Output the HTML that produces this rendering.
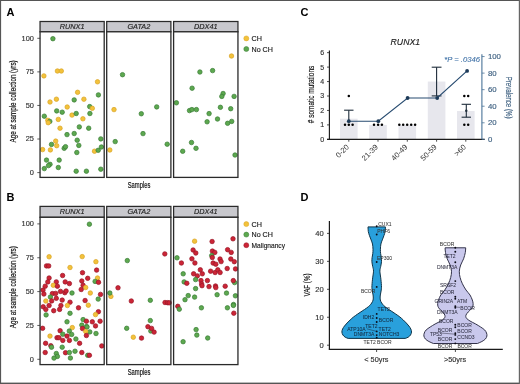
<!DOCTYPE html>
<html><head><meta charset="utf-8"><title>Figure</title>
<style>html,body{margin:0;padding:0;background:#fff;}svg{display:block;will-change:transform;}text{font-family:"Liberation Sans", sans-serif;}</style>
</head><body>
<svg width="520" height="384" viewBox="0 0 520 384" font-family='"Liberation Sans", sans-serif'>
<rect x="0" y="0" width="520" height="384" fill="#fff"/>
<rect x="40.05" y="21.5" width="64.15" height="10.30" fill="#C8C8CD" stroke="#2a2a2a" stroke-width="1.25"/>
<rect x="40.05" y="31.8" width="64.15" height="145.60" fill="#fff" stroke="none"/>
<text x="72.125" y="29.1" font-size="7.3" fill="#222" stroke="#222" stroke-width="0.15" text-anchor="middle" font-weight="normal" font-style="italic" >RUNX1</text>
<rect x="106.7" y="21.5" width="64.20" height="10.30" fill="#C8C8CD" stroke="#2a2a2a" stroke-width="1.25"/>
<rect x="106.7" y="31.8" width="64.20" height="145.60" fill="#fff" stroke="none"/>
<text x="138.8" y="29.1" font-size="7.3" fill="#222" stroke="#222" stroke-width="0.15" text-anchor="middle" font-weight="normal" font-style="italic" >GATA2</text>
<rect x="173.6" y="21.5" width="64.35" height="10.30" fill="#C8C8CD" stroke="#2a2a2a" stroke-width="1.25"/>
<rect x="173.6" y="31.8" width="64.35" height="145.60" fill="#fff" stroke="none"/>
<text x="205.77499999999998" y="29.1" font-size="7.3" fill="#222" stroke="#222" stroke-width="0.15" text-anchor="middle" font-weight="normal" font-style="italic" >DDX41</text>
<g>
<circle cx="52.9" cy="38.7" r="2.25" fill="#5DA84F" stroke="#3A7D37" stroke-width="0.7"/>
<circle cx="43.9" cy="75.9" r="2.25" fill="#F3C23B" stroke="#D9A425" stroke-width="0.7"/>
<circle cx="57.4" cy="71.0" r="2.25" fill="#F3C23B" stroke="#D9A425" stroke-width="0.7"/>
<circle cx="61.3" cy="71.0" r="2.25" fill="#F3C23B" stroke="#D9A425" stroke-width="0.7"/>
<circle cx="97.5" cy="81.8" r="2.25" fill="#F3C23B" stroke="#D9A425" stroke-width="0.7"/>
<circle cx="77.6" cy="92.3" r="2.25" fill="#F3C23B" stroke="#D9A425" stroke-width="0.7"/>
<circle cx="98.4" cy="94.9" r="2.25" fill="#5DA84F" stroke="#3A7D37" stroke-width="0.7"/>
<circle cx="56.4" cy="99.2" r="2.25" fill="#F3C23B" stroke="#D9A425" stroke-width="0.7"/>
<circle cx="50.0" cy="102.0" r="2.25" fill="#F3C23B" stroke="#D9A425" stroke-width="0.7"/>
<circle cx="74.2" cy="99.9" r="2.25" fill="#5DA84F" stroke="#3A7D37" stroke-width="0.7"/>
<circle cx="83.9" cy="99.2" r="2.25" fill="#F3C23B" stroke="#D9A425" stroke-width="0.7"/>
<circle cx="67.2" cy="107.0" r="2.25" fill="#F3C23B" stroke="#D9A425" stroke-width="0.7"/>
<circle cx="89.7" cy="106.6" r="2.25" fill="#5DA84F" stroke="#3A7D37" stroke-width="0.7"/>
<circle cx="92.3" cy="108.3" r="2.25" fill="#F3C23B" stroke="#D9A425" stroke-width="0.7"/>
<circle cx="56.7" cy="110.9" r="2.25" fill="#5DA84F" stroke="#3A7D37" stroke-width="0.7"/>
<circle cx="62.2" cy="112.2" r="2.25" fill="#5DA84F" stroke="#3A7D37" stroke-width="0.7"/>
<circle cx="44.3" cy="116.2" r="2.25" fill="#5DA84F" stroke="#3A7D37" stroke-width="0.7"/>
<circle cx="72.0" cy="115.1" r="2.25" fill="#F3C23B" stroke="#D9A425" stroke-width="0.7"/>
<circle cx="76.2" cy="113.5" r="2.25" fill="#5DA84F" stroke="#3A7D37" stroke-width="0.7"/>
<circle cx="89.9" cy="113.5" r="2.25" fill="#5DA84F" stroke="#3A7D37" stroke-width="0.7"/>
<circle cx="47.8" cy="120.3" r="2.25" fill="#F3C23B" stroke="#D9A425" stroke-width="0.7"/>
<circle cx="49.8" cy="121.4" r="2.25" fill="#5DA84F" stroke="#3A7D37" stroke-width="0.7"/>
<circle cx="48.2" cy="122.7" r="2.25" fill="#F3C23B" stroke="#D9A425" stroke-width="0.7"/>
<circle cx="58.3" cy="119.4" r="2.25" fill="#F3C23B" stroke="#D9A425" stroke-width="0.7"/>
<circle cx="82.9" cy="118.8" r="2.25" fill="#F3C23B" stroke="#D9A425" stroke-width="0.7"/>
<circle cx="60.0" cy="128.2" r="2.25" fill="#F3C23B" stroke="#D9A425" stroke-width="0.7"/>
<circle cx="79.3" cy="126.9" r="2.25" fill="#5DA84F" stroke="#3A7D37" stroke-width="0.7"/>
<circle cx="88.7" cy="128.2" r="2.25" fill="#5DA84F" stroke="#3A7D37" stroke-width="0.7"/>
<circle cx="67.0" cy="134.6" r="2.25" fill="#5DA84F" stroke="#3A7D37" stroke-width="0.7"/>
<circle cx="74.2" cy="133.5" r="2.25" fill="#5DA84F" stroke="#3A7D37" stroke-width="0.7"/>
<circle cx="77.2" cy="140.2" r="2.25" fill="#5DA84F" stroke="#3A7D37" stroke-width="0.7"/>
<circle cx="78.8" cy="145.4" r="2.25" fill="#5DA84F" stroke="#3A7D37" stroke-width="0.7"/>
<circle cx="100.8" cy="138.9" r="2.25" fill="#5DA84F" stroke="#3A7D37" stroke-width="0.7"/>
<circle cx="55.7" cy="141.1" r="2.25" fill="#F3C23B" stroke="#D9A425" stroke-width="0.7"/>
<circle cx="51.5" cy="144.4" r="2.25" fill="#5DA84F" stroke="#3A7D37" stroke-width="0.7"/>
<circle cx="56.7" cy="145.7" r="2.25" fill="#F3C23B" stroke="#D9A425" stroke-width="0.7"/>
<circle cx="42.6" cy="149.6" r="2.25" fill="#F3C23B" stroke="#D9A425" stroke-width="0.7"/>
<circle cx="50.4" cy="149.9" r="2.25" fill="#F3C23B" stroke="#D9A425" stroke-width="0.7"/>
<circle cx="64.2" cy="148.3" r="2.25" fill="#5DA84F" stroke="#3A7D37" stroke-width="0.7"/>
<circle cx="65.5" cy="146.7" r="2.25" fill="#5DA84F" stroke="#3A7D37" stroke-width="0.7"/>
<circle cx="76.8" cy="152.5" r="2.25" fill="#5DA84F" stroke="#3A7D37" stroke-width="0.7"/>
<circle cx="94.5" cy="151.2" r="2.25" fill="#F3C23B" stroke="#D9A425" stroke-width="0.7"/>
<circle cx="98.2" cy="150.3" r="2.25" fill="#5DA84F" stroke="#3A7D37" stroke-width="0.7"/>
<circle cx="101.4" cy="147.0" r="2.25" fill="#5DA84F" stroke="#3A7D37" stroke-width="0.7"/>
<circle cx="46.5" cy="160.1" r="2.25" fill="#5DA84F" stroke="#3A7D37" stroke-width="0.7"/>
<circle cx="59.2" cy="160.1" r="2.25" fill="#5DA84F" stroke="#3A7D37" stroke-width="0.7"/>
<circle cx="50.0" cy="164.3" r="2.25" fill="#5DA84F" stroke="#3A7D37" stroke-width="0.7"/>
<circle cx="48.5" cy="165.6" r="2.25" fill="#5DA84F" stroke="#3A7D37" stroke-width="0.7"/>
<circle cx="44.3" cy="168.6" r="2.25" fill="#5DA84F" stroke="#3A7D37" stroke-width="0.7"/>
<circle cx="58.3" cy="167.5" r="2.25" fill="#5DA84F" stroke="#3A7D37" stroke-width="0.7"/>
<circle cx="76.2" cy="171.2" r="2.25" fill="#5DA84F" stroke="#3A7D37" stroke-width="0.7"/>
<circle cx="86.4" cy="171.2" r="2.25" fill="#5DA84F" stroke="#3A7D37" stroke-width="0.7"/>
<circle cx="100.8" cy="169.2" r="2.25" fill="#5DA84F" stroke="#3A7D37" stroke-width="0.7"/>
<circle cx="122.5" cy="74.7" r="2.25" fill="#5DA84F" stroke="#3A7D37" stroke-width="0.7"/>
<circle cx="114.0" cy="109.6" r="2.25" fill="#F3C23B" stroke="#D9A425" stroke-width="0.7"/>
<circle cx="141.3" cy="113.75" r="2.25" fill="#5DA84F" stroke="#3A7D37" stroke-width="0.7"/>
<circle cx="156.7" cy="106.9" r="2.25" fill="#5DA84F" stroke="#3A7D37" stroke-width="0.7"/>
<circle cx="143.0" cy="133.6" r="2.25" fill="#5DA84F" stroke="#3A7D37" stroke-width="0.7"/>
<circle cx="115.2" cy="141.6" r="2.25" fill="#5DA84F" stroke="#3A7D37" stroke-width="0.7"/>
<circle cx="109.8" cy="150.0" r="2.25" fill="#F3C23B" stroke="#D9A425" stroke-width="0.7"/>
<circle cx="167.2" cy="144.2" r="2.25" fill="#5DA84F" stroke="#3A7D37" stroke-width="0.7"/>
<circle cx="231.5" cy="56.0" r="2.25" fill="#F3C23B" stroke="#D9A425" stroke-width="0.7"/>
<circle cx="199.9" cy="72.0" r="2.25" fill="#5DA84F" stroke="#3A7D37" stroke-width="0.7"/>
<circle cx="212.6" cy="70.6" r="2.25" fill="#5DA84F" stroke="#3A7D37" stroke-width="0.7"/>
<circle cx="192.1" cy="88.2" r="2.25" fill="#5DA84F" stroke="#3A7D37" stroke-width="0.7"/>
<circle cx="223.1" cy="93.5" r="2.25" fill="#5DA84F" stroke="#3A7D37" stroke-width="0.7"/>
<circle cx="221.8" cy="96.4" r="2.25" fill="#5DA84F" stroke="#3A7D37" stroke-width="0.7"/>
<circle cx="234.1" cy="96.4" r="2.25" fill="#5DA84F" stroke="#3A7D37" stroke-width="0.7"/>
<circle cx="176.4" cy="102.8" r="2.25" fill="#5DA84F" stroke="#3A7D37" stroke-width="0.7"/>
<circle cx="189.5" cy="110.6" r="2.25" fill="#5DA84F" stroke="#3A7D37" stroke-width="0.7"/>
<circle cx="191.9" cy="109.6" r="2.25" fill="#5DA84F" stroke="#3A7D37" stroke-width="0.7"/>
<circle cx="196.4" cy="109.6" r="2.25" fill="#5DA84F" stroke="#3A7D37" stroke-width="0.7"/>
<circle cx="209.1" cy="113.6" r="2.25" fill="#5DA84F" stroke="#3A7D37" stroke-width="0.7"/>
<circle cx="220.4" cy="107.3" r="2.25" fill="#5DA84F" stroke="#3A7D37" stroke-width="0.7"/>
<circle cx="230.7" cy="108.7" r="2.25" fill="#5DA84F" stroke="#3A7D37" stroke-width="0.7"/>
<circle cx="207.1" cy="121.8" r="2.25" fill="#5DA84F" stroke="#3A7D37" stroke-width="0.7"/>
<circle cx="217.5" cy="119.0" r="2.25" fill="#5DA84F" stroke="#3A7D37" stroke-width="0.7"/>
<circle cx="227.6" cy="123.3" r="2.25" fill="#5DA84F" stroke="#3A7D37" stroke-width="0.7"/>
<circle cx="231.7" cy="121.4" r="2.25" fill="#5DA84F" stroke="#3A7D37" stroke-width="0.7"/>
<circle cx="191.5" cy="142.5" r="2.25" fill="#5DA84F" stroke="#3A7D37" stroke-width="0.7"/>
<circle cx="196.0" cy="148.3" r="2.25" fill="#5DA84F" stroke="#3A7D37" stroke-width="0.7"/>
<circle cx="182.7" cy="151.25" r="2.25" fill="#5DA84F" stroke="#3A7D37" stroke-width="0.7"/>
<circle cx="235.0" cy="155.0" r="2.25" fill="#5DA84F" stroke="#3A7D37" stroke-width="0.7"/>
</g>
<rect x="40.05" y="31.8" width="64.15" height="145.60" fill="none" stroke="#2a2a2a" stroke-width="1.3"/>
<rect x="106.7" y="31.8" width="64.20" height="145.60" fill="none" stroke="#2a2a2a" stroke-width="1.3"/>
<rect x="173.6" y="31.8" width="64.35" height="145.60" fill="none" stroke="#2a2a2a" stroke-width="1.3"/>
<line x1="37.3" y1="172.60" x2="40.2" y2="172.60" stroke="#333" stroke-width="0.8"/>
<text x="33.9" y="175.0" font-size="7.4" fill="#333" stroke="#333" stroke-width="0.15" text-anchor="end" font-weight="normal" font-style="normal" >0</text>
<line x1="37.3" y1="139.02" x2="40.2" y2="139.02" stroke="#333" stroke-width="0.8"/>
<text x="33.9" y="141.42" font-size="7.4" fill="#333" stroke="#333" stroke-width="0.15" text-anchor="end" font-weight="normal" font-style="normal" >25</text>
<line x1="37.3" y1="105.45" x2="40.2" y2="105.45" stroke="#333" stroke-width="0.8"/>
<text x="33.9" y="107.85" font-size="7.4" fill="#333" stroke="#333" stroke-width="0.15" text-anchor="end" font-weight="normal" font-style="normal" >50</text>
<line x1="37.3" y1="71.88" x2="40.2" y2="71.88" stroke="#333" stroke-width="0.8"/>
<text x="33.9" y="74.28" font-size="7.4" fill="#333" stroke="#333" stroke-width="0.15" text-anchor="end" font-weight="normal" font-style="normal" >75</text>
<line x1="37.3" y1="38.30" x2="40.2" y2="38.30" stroke="#333" stroke-width="0.8"/>
<text x="33.9" y="40.7" font-size="7.4" fill="#333" stroke="#333" stroke-width="0.15" text-anchor="end" font-weight="normal" font-style="normal" >100</text>
<text transform="translate(15.9,101.4) rotate(-90)" x="0" y="0" font-size="8.4" fill="#111" stroke="#111" stroke-width="0.18" text-anchor="middle" textLength="82" lengthAdjust="spacingAndGlyphs">Age at sample collection (yrs)</text>
<text x="139" y="187.8" font-size="8.3" fill="#111" stroke="#111" stroke-width="0.18" text-anchor="middle" textLength="22.6" lengthAdjust="spacingAndGlyphs">Samples</text>
<text x="6.4" y="15.6" font-size="11" fill="#000" text-anchor="start" font-weight="bold" font-style="normal" >A</text>
<circle cx="246.3" cy="38.4" r="2.5" fill="#F3C23B" stroke="#D9A425" stroke-width="0.5"/>
<text x="251.5" y="41.00" font-size="7.1" fill="#1a1a1a" stroke="#1a1a1a" stroke-width="0.15" textLength="10.4" lengthAdjust="spacingAndGlyphs">CH</text>
<circle cx="246.3" cy="49.0" r="2.5" fill="#5DA84F" stroke="#3A7D37" stroke-width="0.5"/>
<text x="251.5" y="51.60" font-size="7.1" fill="#1a1a1a" stroke="#1a1a1a" stroke-width="0.15" textLength="21.4" lengthAdjust="spacingAndGlyphs">No CH</text>
<rect x="40.05" y="206.4" width="64.15" height="10.90" fill="#C8C8CD" stroke="#2a2a2a" stroke-width="1.25"/>
<rect x="40.05" y="217.3" width="64.15" height="147.30" fill="#fff" stroke="none"/>
<text x="72.125" y="214.0" font-size="7.3" fill="#222" stroke="#222" stroke-width="0.15" text-anchor="middle" font-weight="normal" font-style="italic" >RUNX1</text>
<rect x="106.7" y="206.4" width="64.20" height="10.90" fill="#C8C8CD" stroke="#2a2a2a" stroke-width="1.25"/>
<rect x="106.7" y="217.3" width="64.20" height="147.30" fill="#fff" stroke="none"/>
<text x="138.8" y="214.0" font-size="7.3" fill="#222" stroke="#222" stroke-width="0.15" text-anchor="middle" font-weight="normal" font-style="italic" >GATA2</text>
<rect x="173.6" y="206.4" width="64.35" height="10.90" fill="#C8C8CD" stroke="#2a2a2a" stroke-width="1.25"/>
<rect x="173.6" y="217.3" width="64.35" height="147.30" fill="#fff" stroke="none"/>
<text x="205.77499999999998" y="214.0" font-size="7.3" fill="#222" stroke="#222" stroke-width="0.15" text-anchor="middle" font-weight="normal" font-style="italic" >DDX41</text>
<g>
<circle cx="89.4" cy="224.2" r="2.25" fill="#5DA84F" stroke="#3A7D37" stroke-width="0.7"/>
<circle cx="49.1" cy="256.8" r="2.25" fill="#F3C23B" stroke="#D9A425" stroke-width="0.7"/>
<circle cx="82.2" cy="256.6" r="2.25" fill="#F3C23B" stroke="#D9A425" stroke-width="0.7"/>
<circle cx="95.9" cy="261.7" r="2.25" fill="#F3C23B" stroke="#D9A425" stroke-width="0.7"/>
<circle cx="46.5" cy="265.9" r="2.25" fill="#CC2536" stroke="#981626" stroke-width="0.7"/>
<circle cx="48.7" cy="265.9" r="2.25" fill="#CC2536" stroke="#981626" stroke-width="0.7"/>
<circle cx="70.0" cy="267.5" r="2.25" fill="#F3C23B" stroke="#D9A425" stroke-width="0.7"/>
<circle cx="96.6" cy="270.1" r="2.25" fill="#CC2536" stroke="#981626" stroke-width="0.7"/>
<circle cx="82.5" cy="272.7" r="2.25" fill="#CC2536" stroke="#981626" stroke-width="0.7"/>
<circle cx="62.6" cy="275.5" r="2.25" fill="#CC2536" stroke="#981626" stroke-width="0.7"/>
<circle cx="49.1" cy="278.0" r="2.25" fill="#CC2536" stroke="#981626" stroke-width="0.7"/>
<circle cx="87.7" cy="278.3" r="2.25" fill="#CC2536" stroke="#981626" stroke-width="0.7"/>
<circle cx="97.5" cy="278.0" r="2.25" fill="#F3C23B" stroke="#D9A425" stroke-width="0.7"/>
<circle cx="47.8" cy="281.9" r="2.25" fill="#CC2536" stroke="#981626" stroke-width="0.7"/>
<circle cx="56.3" cy="281.9" r="2.25" fill="#CC2536" stroke="#981626" stroke-width="0.7"/>
<circle cx="65.2" cy="281.9" r="2.25" fill="#CC2536" stroke="#981626" stroke-width="0.7"/>
<circle cx="69.4" cy="283.6" r="2.25" fill="#CC2536" stroke="#981626" stroke-width="0.7"/>
<circle cx="81.8" cy="281.0" r="2.25" fill="#CC2536" stroke="#981626" stroke-width="0.7"/>
<circle cx="95.1" cy="281.4" r="2.25" fill="#5DA84F" stroke="#3A7D37" stroke-width="0.7"/>
<circle cx="98.5" cy="282.3" r="2.25" fill="#CC2536" stroke="#981626" stroke-width="0.7"/>
<circle cx="45.2" cy="286.2" r="2.25" fill="#CC2536" stroke="#981626" stroke-width="0.7"/>
<circle cx="53.3" cy="285.3" r="2.25" fill="#F3C23B" stroke="#D9A425" stroke-width="0.7"/>
<circle cx="57.4" cy="286.2" r="2.25" fill="#CC2536" stroke="#981626" stroke-width="0.7"/>
<circle cx="83.1" cy="285.3" r="2.25" fill="#CC2536" stroke="#981626" stroke-width="0.7"/>
<circle cx="85.7" cy="287.5" r="2.25" fill="#F3C23B" stroke="#D9A425" stroke-width="0.7"/>
<circle cx="81.2" cy="289.5" r="2.25" fill="#CC2536" stroke="#981626" stroke-width="0.7"/>
<circle cx="43.0" cy="290.1" r="2.25" fill="#CC2536" stroke="#981626" stroke-width="0.7"/>
<circle cx="43.9" cy="294.0" r="2.25" fill="#CC2536" stroke="#981626" stroke-width="0.7"/>
<circle cx="52.4" cy="293.6" r="2.25" fill="#CC2536" stroke="#981626" stroke-width="0.7"/>
<circle cx="55.7" cy="293.4" r="2.25" fill="#CC2536" stroke="#981626" stroke-width="0.7"/>
<circle cx="60.5" cy="291.4" r="2.25" fill="#CC2536" stroke="#981626" stroke-width="0.7"/>
<circle cx="64.8" cy="292.7" r="2.25" fill="#CC2536" stroke="#981626" stroke-width="0.7"/>
<circle cx="66.1" cy="291.0" r="2.25" fill="#CC2536" stroke="#981626" stroke-width="0.7"/>
<circle cx="72.0" cy="293.0" r="2.25" fill="#5DA84F" stroke="#3A7D37" stroke-width="0.7"/>
<circle cx="90.3" cy="293.0" r="2.25" fill="#F3C23B" stroke="#D9A425" stroke-width="0.7"/>
<circle cx="100.5" cy="294.4" r="2.25" fill="#CC2536" stroke="#981626" stroke-width="0.7"/>
<circle cx="50.4" cy="297.0" r="2.25" fill="#5DA84F" stroke="#3A7D37" stroke-width="0.7"/>
<circle cx="56.3" cy="298.3" r="2.25" fill="#CC2536" stroke="#981626" stroke-width="0.7"/>
<circle cx="62.2" cy="300.1" r="2.25" fill="#CC2536" stroke="#981626" stroke-width="0.7"/>
<circle cx="85.1" cy="300.5" r="2.25" fill="#CC2536" stroke="#981626" stroke-width="0.7"/>
<circle cx="98.2" cy="299.1" r="2.25" fill="#5DA84F" stroke="#3A7D37" stroke-width="0.7"/>
<circle cx="45.8" cy="301.0" r="2.25" fill="#F3C23B" stroke="#D9A425" stroke-width="0.7"/>
<circle cx="51.7" cy="300.9" r="2.25" fill="#CC2536" stroke="#981626" stroke-width="0.7"/>
<circle cx="70.0" cy="302.2" r="2.25" fill="#CC2536" stroke="#981626" stroke-width="0.7"/>
<circle cx="67.4" cy="305.5" r="2.25" fill="#F3C23B" stroke="#D9A425" stroke-width="0.7"/>
<circle cx="88.3" cy="305.2" r="2.25" fill="#F3C23B" stroke="#D9A425" stroke-width="0.7"/>
<circle cx="43.2" cy="306.8" r="2.25" fill="#CC2536" stroke="#981626" stroke-width="0.7"/>
<circle cx="49.1" cy="305.5" r="2.25" fill="#CC2536" stroke="#981626" stroke-width="0.7"/>
<circle cx="45.8" cy="309.4" r="2.25" fill="#CC2536" stroke="#981626" stroke-width="0.7"/>
<circle cx="60.9" cy="305.5" r="2.25" fill="#CC2536" stroke="#981626" stroke-width="0.7"/>
<circle cx="59.6" cy="309.4" r="2.25" fill="#CC2536" stroke="#981626" stroke-width="0.7"/>
<circle cx="53.7" cy="310.7" r="2.25" fill="#CC2536" stroke="#981626" stroke-width="0.7"/>
<circle cx="78.5" cy="307.8" r="2.25" fill="#CC2536" stroke="#981626" stroke-width="0.7"/>
<circle cx="98.4" cy="311.7" r="2.25" fill="#CC2536" stroke="#981626" stroke-width="0.7"/>
<circle cx="95.5" cy="314.6" r="2.25" fill="#F3C23B" stroke="#D9A425" stroke-width="0.7"/>
<circle cx="46.1" cy="314.9" r="2.25" fill="#5DA84F" stroke="#3A7D37" stroke-width="0.7"/>
<circle cx="70.0" cy="313.3" r="2.25" fill="#5DA84F" stroke="#3A7D37" stroke-width="0.7"/>
<circle cx="83.1" cy="319.6" r="2.25" fill="#5DA84F" stroke="#3A7D37" stroke-width="0.7"/>
<circle cx="86.4" cy="321.2" r="2.25" fill="#CC2536" stroke="#981626" stroke-width="0.7"/>
<circle cx="92.3" cy="321.8" r="2.25" fill="#CC2536" stroke="#981626" stroke-width="0.7"/>
<circle cx="100.1" cy="321.2" r="2.25" fill="#CC2536" stroke="#981626" stroke-width="0.7"/>
<circle cx="67.0" cy="321.8" r="2.25" fill="#5DA84F" stroke="#3A7D37" stroke-width="0.7"/>
<circle cx="81.8" cy="325.1" r="2.25" fill="#5DA84F" stroke="#3A7D37" stroke-width="0.7"/>
<circle cx="86.6" cy="326.6" r="2.25" fill="#5DA84F" stroke="#3A7D37" stroke-width="0.7"/>
<circle cx="87.0" cy="327.0" r="2.25" fill="#5DA84F" stroke="#3A7D37" stroke-width="0.7"/>
<circle cx="95.5" cy="325.9" r="2.25" fill="#CC2536" stroke="#981626" stroke-width="0.7"/>
<circle cx="72.3" cy="327.6" r="2.25" fill="#F3C23B" stroke="#D9A425" stroke-width="0.7"/>
<circle cx="82.5" cy="328.5" r="2.25" fill="#CC2536" stroke="#981626" stroke-width="0.7"/>
<circle cx="42.6" cy="328.3" r="2.25" fill="#CC2536" stroke="#981626" stroke-width="0.7"/>
<circle cx="60.1" cy="330.7" r="2.25" fill="#CC2536" stroke="#981626" stroke-width="0.7"/>
<circle cx="69.3" cy="331.0" r="2.25" fill="#5DA84F" stroke="#3A7D37" stroke-width="0.7"/>
<circle cx="89.8" cy="331.9" r="2.25" fill="#5DA84F" stroke="#3A7D37" stroke-width="0.7"/>
<circle cx="96.0" cy="333.5" r="2.25" fill="#5DA84F" stroke="#3A7D37" stroke-width="0.7"/>
<circle cx="62.8" cy="334.2" r="2.25" fill="#5DA84F" stroke="#3A7D37" stroke-width="0.7"/>
<circle cx="71.7" cy="334.4" r="2.25" fill="#5DA84F" stroke="#3A7D37" stroke-width="0.7"/>
<circle cx="85.7" cy="331.5" r="2.25" fill="#F3C23B" stroke="#D9A425" stroke-width="0.7"/>
<circle cx="86.4" cy="335.5" r="2.25" fill="#CC2536" stroke="#981626" stroke-width="0.7"/>
<circle cx="50.0" cy="336.1" r="2.25" fill="#F3C23B" stroke="#D9A425" stroke-width="0.7"/>
<circle cx="57.0" cy="337.7" r="2.25" fill="#CC2536" stroke="#981626" stroke-width="0.7"/>
<circle cx="58.9" cy="337.7" r="2.25" fill="#CC2536" stroke="#981626" stroke-width="0.7"/>
<circle cx="67.0" cy="336.1" r="2.25" fill="#CC2536" stroke="#981626" stroke-width="0.7"/>
<circle cx="62.8" cy="340.4" r="2.25" fill="#CC2536" stroke="#981626" stroke-width="0.7"/>
<circle cx="69.4" cy="340.4" r="2.25" fill="#CC2536" stroke="#981626" stroke-width="0.7"/>
<circle cx="75.9" cy="339.0" r="2.25" fill="#5DA84F" stroke="#3A7D37" stroke-width="0.7"/>
<circle cx="79.6" cy="343.3" r="2.25" fill="#CC2536" stroke="#981626" stroke-width="0.7"/>
<circle cx="45.6" cy="343.3" r="2.25" fill="#CC2536" stroke="#981626" stroke-width="0.7"/>
<circle cx="50.8" cy="345.7" r="2.25" fill="#CC2536" stroke="#981626" stroke-width="0.7"/>
<circle cx="51.5" cy="347.2" r="2.25" fill="#5DA84F" stroke="#3A7D37" stroke-width="0.7"/>
<circle cx="62.2" cy="347.2" r="2.25" fill="#5DA84F" stroke="#3A7D37" stroke-width="0.7"/>
<circle cx="101.8" cy="345.9" r="2.25" fill="#CC2536" stroke="#981626" stroke-width="0.7"/>
<circle cx="45.2" cy="352.5" r="2.25" fill="#CC2536" stroke="#981626" stroke-width="0.7"/>
<circle cx="65.5" cy="352.7" r="2.25" fill="#CC2536" stroke="#981626" stroke-width="0.7"/>
<circle cx="69.4" cy="352.5" r="2.25" fill="#5DA84F" stroke="#3A7D37" stroke-width="0.7"/>
<circle cx="75.0" cy="351.2" r="2.25" fill="#5DA84F" stroke="#3A7D37" stroke-width="0.7"/>
<circle cx="81.8" cy="352.5" r="2.25" fill="#CC2536" stroke="#981626" stroke-width="0.7"/>
<circle cx="87.7" cy="355.3" r="2.25" fill="#5DA84F" stroke="#3A7D37" stroke-width="0.7"/>
<circle cx="89.4" cy="355.3" r="2.25" fill="#CC2536" stroke="#981626" stroke-width="0.7"/>
<circle cx="56.3" cy="353.5" r="2.25" fill="#5DA84F" stroke="#3A7D37" stroke-width="0.7"/>
<circle cx="57.4" cy="356.4" r="2.25" fill="#5DA84F" stroke="#3A7D37" stroke-width="0.7"/>
<circle cx="54.0" cy="358.1" r="2.25" fill="#5DA84F" stroke="#3A7D37" stroke-width="0.7"/>
<circle cx="70.4" cy="358.0" r="2.25" fill="#5DA84F" stroke="#3A7D37" stroke-width="0.7"/>
<circle cx="127.3" cy="260.6" r="2.25" fill="#5DA84F" stroke="#3A7D37" stroke-width="0.7"/>
<circle cx="164.8" cy="253.9" r="2.25" fill="#CC2536" stroke="#981626" stroke-width="0.7"/>
<circle cx="118.0" cy="287.8" r="2.25" fill="#CC2536" stroke="#981626" stroke-width="0.7"/>
<circle cx="110.9" cy="296.4" r="2.25" fill="#F3C23B" stroke="#D9A425" stroke-width="0.7"/>
<circle cx="109.8" cy="293.0" r="2.25" fill="#5DA84F" stroke="#3A7D37" stroke-width="0.7"/>
<circle cx="131.3" cy="301.0" r="2.25" fill="#CC2536" stroke="#981626" stroke-width="0.7"/>
<circle cx="150.3" cy="300.3" r="2.25" fill="#5DA84F" stroke="#3A7D37" stroke-width="0.7"/>
<circle cx="165.0" cy="302.5" r="2.25" fill="#CC2536" stroke="#981626" stroke-width="0.7"/>
<circle cx="167.5" cy="302.7" r="2.25" fill="#CC2536" stroke="#981626" stroke-width="0.7"/>
<circle cx="169.2" cy="302.8" r="2.25" fill="#CC2536" stroke="#981626" stroke-width="0.7"/>
<circle cx="150.3" cy="320.6" r="2.25" fill="#5DA84F" stroke="#3A7D37" stroke-width="0.7"/>
<circle cx="126.7" cy="328.3" r="2.25" fill="#5DA84F" stroke="#3A7D37" stroke-width="0.7"/>
<circle cx="150.8" cy="331.0" r="2.25" fill="#5DA84F" stroke="#3A7D37" stroke-width="0.7"/>
<circle cx="147.9" cy="326.7" r="2.25" fill="#CC2536" stroke="#981626" stroke-width="0.7"/>
<circle cx="151.6" cy="328.4" r="2.25" fill="#CC2536" stroke="#981626" stroke-width="0.7"/>
<circle cx="154.1" cy="332.1" r="2.25" fill="#CC2536" stroke="#981626" stroke-width="0.7"/>
<circle cx="133.3" cy="337.2" r="2.25" fill="#F3C23B" stroke="#D9A425" stroke-width="0.7"/>
<circle cx="141.5" cy="338.1" r="2.25" fill="#CC2536" stroke="#981626" stroke-width="0.7"/>
<circle cx="194.6" cy="241.2" r="2.25" fill="#F3C23B" stroke="#D9A425" stroke-width="0.7"/>
<circle cx="212.1" cy="241.5" r="2.25" fill="#CC2536" stroke="#981626" stroke-width="0.7"/>
<circle cx="233.0" cy="238.8" r="2.25" fill="#CC2536" stroke="#981626" stroke-width="0.7"/>
<circle cx="193.1" cy="250.0" r="2.25" fill="#CC2536" stroke="#981626" stroke-width="0.7"/>
<circle cx="195.8" cy="253.0" r="2.25" fill="#CC2536" stroke="#981626" stroke-width="0.7"/>
<circle cx="212.4" cy="251.1" r="2.25" fill="#CC2536" stroke="#981626" stroke-width="0.7"/>
<circle cx="214.8" cy="252.4" r="2.25" fill="#CC2536" stroke="#981626" stroke-width="0.7"/>
<circle cx="227.6" cy="249.7" r="2.25" fill="#CC2536" stroke="#981626" stroke-width="0.7"/>
<circle cx="231.2" cy="252.4" r="2.25" fill="#CC2536" stroke="#981626" stroke-width="0.7"/>
<circle cx="177.0" cy="257.8" r="2.25" fill="#5DA84F" stroke="#3A7D37" stroke-width="0.7"/>
<circle cx="211.7" cy="255.6" r="2.25" fill="#5DA84F" stroke="#3A7D37" stroke-width="0.7"/>
<circle cx="191.9" cy="258.8" r="2.25" fill="#CC2536" stroke="#981626" stroke-width="0.7"/>
<circle cx="194.9" cy="263.0" r="2.25" fill="#CC2536" stroke="#981626" stroke-width="0.7"/>
<circle cx="212.3" cy="257.5" r="2.25" fill="#CC2536" stroke="#981626" stroke-width="0.7"/>
<circle cx="220.0" cy="259.0" r="2.25" fill="#CC2536" stroke="#981626" stroke-width="0.7"/>
<circle cx="221.1" cy="261.6" r="2.25" fill="#CC2536" stroke="#981626" stroke-width="0.7"/>
<circle cx="230.8" cy="259.0" r="2.25" fill="#CC2536" stroke="#981626" stroke-width="0.7"/>
<circle cx="234.3" cy="261.7" r="2.25" fill="#CC2536" stroke="#981626" stroke-width="0.7"/>
<circle cx="181.4" cy="263.0" r="2.25" fill="#CC2536" stroke="#981626" stroke-width="0.7"/>
<circle cx="213.1" cy="263.1" r="2.25" fill="#CC2536" stroke="#981626" stroke-width="0.7"/>
<circle cx="215.8" cy="264.2" r="2.25" fill="#CC2536" stroke="#981626" stroke-width="0.7"/>
<circle cx="227.2" cy="268.5" r="2.25" fill="#CC2536" stroke="#981626" stroke-width="0.7"/>
<circle cx="235.5" cy="268.9" r="2.25" fill="#CC2536" stroke="#981626" stroke-width="0.7"/>
<circle cx="200.3" cy="269.8" r="2.25" fill="#CC2536" stroke="#981626" stroke-width="0.7"/>
<circle cx="202.3" cy="273.8" r="2.25" fill="#CC2536" stroke="#981626" stroke-width="0.7"/>
<circle cx="193.6" cy="273.8" r="2.25" fill="#CC2536" stroke="#981626" stroke-width="0.7"/>
<circle cx="197.3" cy="275.9" r="2.25" fill="#CC2536" stroke="#981626" stroke-width="0.7"/>
<circle cx="210.6" cy="271.2" r="2.25" fill="#CC2536" stroke="#981626" stroke-width="0.7"/>
<circle cx="215.1" cy="272.5" r="2.25" fill="#CC2536" stroke="#981626" stroke-width="0.7"/>
<circle cx="217.8" cy="269.8" r="2.25" fill="#CC2536" stroke="#981626" stroke-width="0.7"/>
<circle cx="220.1" cy="272.5" r="2.25" fill="#CC2536" stroke="#981626" stroke-width="0.7"/>
<circle cx="183.2" cy="273.8" r="2.25" fill="#5DA84F" stroke="#3A7D37" stroke-width="0.7"/>
<circle cx="195.6" cy="279.6" r="2.25" fill="#5DA84F" stroke="#3A7D37" stroke-width="0.7"/>
<circle cx="184.1" cy="281.9" r="2.25" fill="#5DA84F" stroke="#3A7D37" stroke-width="0.7"/>
<circle cx="186.8" cy="283.3" r="2.25" fill="#CC2536" stroke="#981626" stroke-width="0.7"/>
<circle cx="201.0" cy="280.6" r="2.25" fill="#CC2536" stroke="#981626" stroke-width="0.7"/>
<circle cx="201.6" cy="283.9" r="2.25" fill="#CC2536" stroke="#981626" stroke-width="0.7"/>
<circle cx="202.0" cy="285.7" r="2.25" fill="#CC2536" stroke="#981626" stroke-width="0.7"/>
<circle cx="207.4" cy="280.6" r="2.25" fill="#CC2536" stroke="#981626" stroke-width="0.7"/>
<circle cx="209.0" cy="286.6" r="2.25" fill="#CC2536" stroke="#981626" stroke-width="0.7"/>
<circle cx="215.5" cy="286.0" r="2.25" fill="#CC2536" stroke="#981626" stroke-width="0.7"/>
<circle cx="215.8" cy="287.6" r="2.25" fill="#CC2536" stroke="#981626" stroke-width="0.7"/>
<circle cx="225.2" cy="286.2" r="2.25" fill="#CC2536" stroke="#981626" stroke-width="0.7"/>
<circle cx="234.6" cy="282.6" r="2.25" fill="#5DA84F" stroke="#3A7D37" stroke-width="0.7"/>
<circle cx="233.3" cy="280.6" r="2.25" fill="#CC2536" stroke="#981626" stroke-width="0.7"/>
<circle cx="195.6" cy="288.6" r="2.25" fill="#5DA84F" stroke="#3A7D37" stroke-width="0.7"/>
<circle cx="188.2" cy="295.6" r="2.25" fill="#5DA84F" stroke="#3A7D37" stroke-width="0.7"/>
<circle cx="185.0" cy="299.7" r="2.25" fill="#5DA84F" stroke="#3A7D37" stroke-width="0.7"/>
<circle cx="194.6" cy="297.1" r="2.25" fill="#5DA84F" stroke="#3A7D37" stroke-width="0.7"/>
<circle cx="217.1" cy="294.7" r="2.25" fill="#5DA84F" stroke="#3A7D37" stroke-width="0.7"/>
<circle cx="226.5" cy="293.1" r="2.25" fill="#5DA84F" stroke="#3A7D37" stroke-width="0.7"/>
<circle cx="235.4" cy="295.8" r="2.25" fill="#5DA84F" stroke="#3A7D37" stroke-width="0.7"/>
<circle cx="233.5" cy="304.5" r="2.25" fill="#5DA84F" stroke="#3A7D37" stroke-width="0.7"/>
<circle cx="177.8" cy="306.3" r="2.25" fill="#CC2536" stroke="#981626" stroke-width="0.7"/>
<circle cx="179.3" cy="309.2" r="2.25" fill="#5DA84F" stroke="#3A7D37" stroke-width="0.7"/>
<circle cx="201.4" cy="307.8" r="2.25" fill="#5DA84F" stroke="#3A7D37" stroke-width="0.7"/>
<circle cx="227.4" cy="307.8" r="2.25" fill="#5DA84F" stroke="#3A7D37" stroke-width="0.7"/>
<circle cx="233.4" cy="305.4" r="2.25" fill="#5DA84F" stroke="#3A7D37" stroke-width="0.7"/>
<circle cx="233.8" cy="313.2" r="2.25" fill="#CC2536" stroke="#981626" stroke-width="0.7"/>
<circle cx="196.1" cy="329.6" r="2.25" fill="#5DA84F" stroke="#3A7D37" stroke-width="0.7"/>
<circle cx="196.8" cy="335.1" r="2.25" fill="#5DA84F" stroke="#3A7D37" stroke-width="0.7"/>
<circle cx="207.7" cy="338.0" r="2.25" fill="#5DA84F" stroke="#3A7D37" stroke-width="0.7"/>
<circle cx="183.1" cy="341.7" r="2.25" fill="#5DA84F" stroke="#3A7D37" stroke-width="0.7"/>
</g>
<rect x="40.05" y="217.3" width="64.15" height="147.30" fill="none" stroke="#2a2a2a" stroke-width="1.3"/>
<rect x="106.7" y="217.3" width="64.20" height="147.30" fill="none" stroke="#2a2a2a" stroke-width="1.3"/>
<rect x="173.6" y="217.3" width="64.35" height="147.30" fill="none" stroke="#2a2a2a" stroke-width="1.3"/>
<line x1="37.3" y1="359.30" x2="40.2" y2="359.30" stroke="#333" stroke-width="0.8"/>
<text x="33.9" y="361.7" font-size="7.4" fill="#333" stroke="#333" stroke-width="0.15" text-anchor="end" font-weight="normal" font-style="normal" >0</text>
<line x1="37.3" y1="325.45" x2="40.2" y2="325.45" stroke="#333" stroke-width="0.8"/>
<text x="33.9" y="327.85" font-size="7.4" fill="#333" stroke="#333" stroke-width="0.15" text-anchor="end" font-weight="normal" font-style="normal" >25</text>
<line x1="37.3" y1="291.60" x2="40.2" y2="291.60" stroke="#333" stroke-width="0.8"/>
<text x="33.9" y="294.0" font-size="7.4" fill="#333" stroke="#333" stroke-width="0.15" text-anchor="end" font-weight="normal" font-style="normal" >50</text>
<line x1="37.3" y1="257.75" x2="40.2" y2="257.75" stroke="#333" stroke-width="0.8"/>
<text x="33.9" y="260.15" font-size="7.4" fill="#333" stroke="#333" stroke-width="0.15" text-anchor="end" font-weight="normal" font-style="normal" >75</text>
<line x1="37.3" y1="223.90" x2="40.2" y2="223.90" stroke="#333" stroke-width="0.8"/>
<text x="33.9" y="226.3" font-size="7.4" fill="#333" stroke="#333" stroke-width="0.15" text-anchor="end" font-weight="normal" font-style="normal" >100</text>
<text transform="translate(15.9,287.2) rotate(-90)" x="0" y="0" font-size="8.4" fill="#111" stroke="#111" stroke-width="0.18" text-anchor="middle" textLength="82" lengthAdjust="spacingAndGlyphs">Age at sample collection (yrs)</text>
<text x="139" y="375.2" font-size="8.3" fill="#111" stroke="#111" stroke-width="0.18" text-anchor="middle" textLength="22.6" lengthAdjust="spacingAndGlyphs">Samples</text>
<text x="6.4" y="201.2" font-size="11" fill="#000" text-anchor="start" font-weight="bold" font-style="normal" >B</text>
<circle cx="246.3" cy="224.1" r="2.5" fill="#F3C23B" stroke="#D9A425" stroke-width="0.5"/>
<text x="251.5" y="226.70" font-size="7.1" fill="#1a1a1a" stroke="#1a1a1a" stroke-width="0.15" textLength="10.4" lengthAdjust="spacingAndGlyphs">CH</text>
<circle cx="246.3" cy="234.6" r="2.5" fill="#5DA84F" stroke="#3A7D37" stroke-width="0.5"/>
<text x="251.5" y="237.20" font-size="7.1" fill="#1a1a1a" stroke="#1a1a1a" stroke-width="0.15" textLength="21.4" lengthAdjust="spacingAndGlyphs">No CH</text>
<circle cx="246.3" cy="245.2" r="2.5" fill="#CC2536" stroke="#981626" stroke-width="0.5"/>
<text x="251.5" y="247.80" font-size="7.1" fill="#1a1a1a" stroke="#1a1a1a" stroke-width="0.15" textLength="33.5" lengthAdjust="spacingAndGlyphs">Malignancy</text>
<text x="300.6" y="15.6" font-size="11" fill="#000" text-anchor="start" font-weight="bold" font-style="normal" >C</text>
<text x="390.6" y="44.6" font-size="8.7" fill="#222" stroke="#222" stroke-width="0.15" text-anchor="start" font-weight="normal" font-style="italic" >RUNX1</text>
<rect x="340.00" y="118.69" width="17.6" height="20.66" fill="#E7E7ED"/>
<rect x="369.20" y="124.90" width="17.6" height="14.45" fill="#E7E7ED"/>
<rect x="398.50" y="124.90" width="17.6" height="14.45" fill="#E7E7ED"/>
<rect x="427.80" y="81.55" width="17.6" height="57.80" fill="#E7E7ED"/>
<rect x="457.00" y="111.03" width="17.6" height="28.32" fill="#E7E7ED"/>
<circle cx="345.0" cy="124.8" r="1.25" fill="#000"/>
<circle cx="348.8" cy="124.8" r="1.25" fill="#000"/>
<circle cx="352.6" cy="124.8" r="1.25" fill="#000"/>
<circle cx="348.8" cy="95.9" r="1.25" fill="#000"/>
<circle cx="374.0" cy="124.8" r="1.25" fill="#000"/>
<circle cx="378.1" cy="124.8" r="1.25" fill="#000"/>
<circle cx="381.9" cy="124.8" r="1.25" fill="#000"/>
<circle cx="399.3" cy="124.8" r="1.25" fill="#000"/>
<circle cx="403.2" cy="124.8" r="1.25" fill="#000"/>
<circle cx="407.2" cy="124.8" r="1.25" fill="#000"/>
<circle cx="411.2" cy="124.8" r="1.25" fill="#000"/>
<circle cx="415.1" cy="124.8" r="1.25" fill="#000"/>
<circle cx="464.3" cy="96.1" r="1.25" fill="#000"/>
<circle cx="464.3" cy="124.7" r="1.25" fill="#000"/>
<circle cx="468.2" cy="96.1" r="1.25" fill="#000"/>
<circle cx="468.2" cy="124.7" r="1.25" fill="#000"/>
<line x1="348.8" y1="110.2" x2="348.8" y2="121.2" stroke="#1E2C3A" stroke-width="1.1"/>
<line x1="344.1" y1="110.2" x2="353.5" y2="110.2" stroke="#1E2C3A" stroke-width="1.1"/>
<line x1="436.6" y1="67.2" x2="436.6" y2="95.9" stroke="#1E2C3A" stroke-width="1.1"/>
<line x1="431.70000000000005" y1="67.2" x2="441.5" y2="67.2" stroke="#1E2C3A" stroke-width="1.1"/>
<line x1="431.70000000000005" y1="95.9" x2="441.5" y2="95.9" stroke="#1E2C3A" stroke-width="1.1"/>
<line x1="466.3" y1="104.3" x2="466.3" y2="117.2" stroke="#1E2C3A" stroke-width="1.1"/>
<line x1="461.6" y1="104.3" x2="471.0" y2="104.3" stroke="#1E2C3A" stroke-width="1.1"/>
<line x1="461.6" y1="117.2" x2="471.0" y2="117.2" stroke="#1E2C3A" stroke-width="1.1"/>
<circle cx="466.3" cy="110.8" r="1.2" fill="#1E2C3A"/>
<polyline points="348.8,121.2 378.3,121.2 407.6,98.0 437.2,98.0 467.1,70.9" fill="none" stroke="#274B70" stroke-width="1.15"/>
<circle cx="348.8" cy="121.2" r="1.9" fill="#1D3A58"/>
<circle cx="378.3" cy="121.2" r="1.9" fill="#1D3A58"/>
<circle cx="407.6" cy="98.0" r="1.9" fill="#1D3A58"/>
<circle cx="437.2" cy="98.0" r="1.9" fill="#1D3A58"/>
<circle cx="467.1" cy="70.9" r="1.9" fill="#1D3A58"/>
<line x1="329.4" y1="50.4" x2="329.4" y2="139.35" stroke="#1a1a1a" stroke-width="1.15"/>
<line x1="327.0" y1="139.35" x2="484.7" y2="139.35" stroke="#1a1a1a" stroke-width="1.15"/>
<line x1="327.0" y1="139.35" x2="329.4" y2="139.35" stroke="#222" stroke-width="0.8"/>
<text x="324.2" y="141.75" font-size="7.0" fill="#333" stroke="#333" stroke-width="0.15" text-anchor="end" font-weight="normal" font-style="normal" >0</text>
<line x1="327.0" y1="124.90" x2="329.4" y2="124.90" stroke="#222" stroke-width="0.8"/>
<text x="324.2" y="127.3" font-size="7.0" fill="#333" stroke="#333" stroke-width="0.15" text-anchor="end" font-weight="normal" font-style="normal" >1</text>
<line x1="327.0" y1="110.45" x2="329.4" y2="110.45" stroke="#222" stroke-width="0.8"/>
<text x="324.2" y="112.85" font-size="7.0" fill="#333" stroke="#333" stroke-width="0.15" text-anchor="end" font-weight="normal" font-style="normal" >2</text>
<line x1="327.0" y1="96.00" x2="329.4" y2="96.00" stroke="#222" stroke-width="0.8"/>
<text x="324.2" y="98.4" font-size="7.0" fill="#333" stroke="#333" stroke-width="0.15" text-anchor="end" font-weight="normal" font-style="normal" >3</text>
<line x1="327.0" y1="81.55" x2="329.4" y2="81.55" stroke="#222" stroke-width="0.8"/>
<text x="324.2" y="83.95" font-size="7.0" fill="#333" stroke="#333" stroke-width="0.15" text-anchor="end" font-weight="normal" font-style="normal" >4</text>
<line x1="327.0" y1="67.10" x2="329.4" y2="67.10" stroke="#222" stroke-width="0.8"/>
<text x="324.2" y="69.5" font-size="7.0" fill="#333" stroke="#333" stroke-width="0.15" text-anchor="end" font-weight="normal" font-style="normal" >5</text>
<line x1="327.0" y1="52.65" x2="329.4" y2="52.65" stroke="#222" stroke-width="0.8"/>
<text x="324.2" y="55.05" font-size="7.0" fill="#333" stroke="#333" stroke-width="0.15" text-anchor="end" font-weight="normal" font-style="normal" >6</text>
<line x1="348.8" y1="139.35" x2="348.8" y2="141.7" stroke="#222" stroke-width="0.8"/>
<line x1="378.0" y1="139.35" x2="378.0" y2="141.7" stroke="#222" stroke-width="0.8"/>
<line x1="407.3" y1="139.35" x2="407.3" y2="141.7" stroke="#222" stroke-width="0.8"/>
<line x1="436.6" y1="139.35" x2="436.6" y2="141.7" stroke="#222" stroke-width="0.8"/>
<line x1="465.8" y1="139.35" x2="465.8" y2="141.7" stroke="#222" stroke-width="0.8"/>
<text transform="translate(349.40000000000003,147.6) rotate(-45)" x="0" y="0" font-size="7.6" fill="#333" text-anchor="end">0-20</text>
<text transform="translate(378.6,147.6) rotate(-45)" x="0" y="0" font-size="7.6" fill="#333" text-anchor="end">21-39</text>
<text transform="translate(407.90000000000003,147.6) rotate(-45)" x="0" y="0" font-size="7.6" fill="#333" text-anchor="end">40-49</text>
<text transform="translate(437.20000000000005,147.6) rotate(-45)" x="0" y="0" font-size="7.6" fill="#333" text-anchor="end">50-59</text>
<text transform="translate(466.40000000000003,147.6) rotate(-45)" x="0" y="0" font-size="7.6" fill="#333" text-anchor="end">&gt;60</text>
<line x1="481.9" y1="54.3" x2="481.9" y2="139.35" stroke="#4A7398" stroke-width="1.1"/>
<line x1="481.9" y1="139.35" x2="484.6" y2="139.35" stroke="#4A7398" stroke-width="0.8"/>
<text x="487.9" y="141.85" font-size="7.8" fill="#3E6080" stroke="#3E6080" stroke-width="0.15" text-anchor="start" font-weight="normal" font-style="normal" >0</text>
<line x1="481.9" y1="122.79" x2="484.6" y2="122.79" stroke="#4A7398" stroke-width="0.8"/>
<text x="487.9" y="125.29" font-size="7.8" fill="#3E6080" stroke="#3E6080" stroke-width="0.15" text-anchor="start" font-weight="normal" font-style="normal" >20</text>
<line x1="481.9" y1="106.23" x2="484.6" y2="106.23" stroke="#4A7398" stroke-width="0.8"/>
<text x="487.9" y="108.73" font-size="7.8" fill="#3E6080" stroke="#3E6080" stroke-width="0.15" text-anchor="start" font-weight="normal" font-style="normal" >40</text>
<line x1="481.9" y1="89.67" x2="484.6" y2="89.67" stroke="#4A7398" stroke-width="0.8"/>
<text x="487.9" y="92.17" font-size="7.8" fill="#3E6080" stroke="#3E6080" stroke-width="0.15" text-anchor="start" font-weight="normal" font-style="normal" >60</text>
<line x1="481.9" y1="73.11" x2="484.6" y2="73.11" stroke="#4A7398" stroke-width="0.8"/>
<text x="487.9" y="75.61" font-size="7.8" fill="#3E6080" stroke="#3E6080" stroke-width="0.15" text-anchor="start" font-weight="normal" font-style="normal" >80</text>
<line x1="481.9" y1="56.55" x2="484.6" y2="56.55" stroke="#4A7398" stroke-width="0.8"/>
<text x="487.9" y="59.05" font-size="7.8" fill="#3E6080" stroke="#3E6080" stroke-width="0.15" text-anchor="start" font-weight="normal" font-style="normal" >100</text>
<text transform="translate(506.3,97.6) rotate(90)" x="0" y="0" font-size="8.4" fill="#3E6080" stroke="#3E6080" stroke-width="0.15" text-anchor="middle" textLength="41.7" lengthAdjust="spacingAndGlyphs">Prevalence (%)</text>
<text transform="translate(314.2,94.5) rotate(-90)" x="0" y="0" font-size="8.6" fill="#111" stroke="#111" stroke-width="0.15" text-anchor="middle" textLength="57.4" lengthAdjust="spacingAndGlyphs"># somatic mutations</text>
<text x="444.3" y="62.1" font-size="7.6" fill="#3B6EA5" stroke="#3B6EA5" stroke-width="0.1" text-anchor="start" font-weight="normal" font-style="italic" textLength="35.8" lengthAdjust="spacingAndGlyphs">*P = .0346</text>
<text x="300.6" y="201.0" font-size="11" fill="#000" text-anchor="start" font-weight="bold" font-style="normal" >D</text>
<line x1="329.4" y1="220.9" x2="329.4" y2="349.4" stroke="#1a1a1a" stroke-width="1.2"/>
<line x1="328.8" y1="349.4" x2="502.8" y2="349.4" stroke="#1a1a1a" stroke-width="1.2"/>
<line x1="327.0" y1="345.20" x2="329.3" y2="345.20" stroke="#222" stroke-width="0.8"/>
<text x="323.8" y="347.8" font-size="7.6" fill="#333" stroke="#333" stroke-width="0.15" text-anchor="end" font-weight="normal" font-style="normal" >0</text>
<line x1="327.0" y1="317.25" x2="329.3" y2="317.25" stroke="#222" stroke-width="0.8"/>
<text x="323.8" y="319.85" font-size="7.6" fill="#333" stroke="#333" stroke-width="0.15" text-anchor="end" font-weight="normal" font-style="normal" >10</text>
<line x1="327.0" y1="289.30" x2="329.3" y2="289.30" stroke="#222" stroke-width="0.8"/>
<text x="323.8" y="291.9" font-size="7.6" fill="#333" stroke="#333" stroke-width="0.15" text-anchor="end" font-weight="normal" font-style="normal" >20</text>
<line x1="327.0" y1="261.35" x2="329.3" y2="261.35" stroke="#222" stroke-width="0.8"/>
<text x="323.8" y="263.95" font-size="7.6" fill="#333" stroke="#333" stroke-width="0.15" text-anchor="end" font-weight="normal" font-style="normal" >30</text>
<line x1="327.0" y1="233.40" x2="329.3" y2="233.40" stroke="#222" stroke-width="0.8"/>
<text x="323.8" y="236.0" font-size="7.6" fill="#333" stroke="#333" stroke-width="0.15" text-anchor="end" font-weight="normal" font-style="normal" >40</text>
<line x1="376.6" y1="349.4" x2="376.6" y2="352.0" stroke="#222" stroke-width="0.8"/>
<line x1="455.4" y1="349.4" x2="455.4" y2="352.0" stroke="#222" stroke-width="0.8"/>
<text x="376.4" y="361.7" font-size="7.3" fill="#333" stroke="#333" stroke-width="0.15" text-anchor="middle" font-weight="normal" font-style="normal" >&lt; 50yrs</text>
<text x="455.0" y="361.6" font-size="7.3" fill="#333" stroke="#333" stroke-width="0.15" text-anchor="middle" font-weight="normal" font-style="normal" >&gt;50yrs</text>
<text transform="translate(309.8,285.0) rotate(-90)" x="0" y="0" font-size="8.6" fill="#111" stroke="#111" stroke-width="0.15" text-anchor="middle" textLength="23" lengthAdjust="spacingAndGlyphs">VAF (%)</text>
<path d="M368.00,226.90 L385.40,226.90 C385.30,228.43 385.35,230.03 385.10,231.50 C384.85,232.97 384.37,234.30 383.90,235.70 C383.43,237.10 382.80,238.52 382.30,239.90 C381.80,241.28 381.22,242.43 380.90,244.00 C380.58,245.57 380.45,247.73 380.40,249.30 C380.35,250.87 380.45,252.02 380.60,253.40 C380.75,254.78 381.15,256.22 381.30,257.60 C381.45,258.98 381.60,260.22 381.50,261.70 C381.40,263.18 380.97,264.92 380.70,266.50 C380.43,268.08 379.87,269.08 379.90,271.20 C379.93,273.32 380.63,276.52 380.90,279.20 C381.17,281.88 381.50,285.17 381.50,287.30 C381.50,289.43 381.12,290.55 380.90,292.00 C380.68,293.45 380.30,294.67 380.20,296.00 C380.10,297.33 380.05,298.83 380.30,300.00 C380.55,301.17 381.13,302.08 381.70,303.00 C382.27,303.92 382.87,304.67 383.70,305.50 C384.53,306.33 385.45,307.08 386.70,308.00 C387.95,308.92 389.70,310.00 391.20,311.00 C392.70,312.00 394.25,313.00 395.70,314.00 C397.15,315.00 398.63,316.00 399.90,317.00 C401.17,318.00 402.23,319.00 403.30,320.00 C404.37,321.00 405.37,322.00 406.30,323.00 C407.23,324.00 408.15,325.00 408.90,326.00 C409.65,327.00 410.37,328.00 410.80,329.00 C411.23,330.00 411.55,331.00 411.50,332.00 C411.45,333.00 411.05,334.13 410.50,335.00 C409.95,335.87 409.08,336.63 408.20,337.20 C407.32,337.77 406.20,338.00 405.20,338.40 L348.20,338.40 C347.20,338.00 346.08,337.77 345.20,337.20 C344.32,336.63 343.45,335.87 342.90,335.00 C342.35,334.13 341.95,333.00 341.90,332.00 C341.85,331.00 342.17,330.00 342.60,329.00 C343.03,328.00 343.75,327.00 344.50,326.00 C345.25,325.00 346.17,324.00 347.10,323.00 C348.03,322.00 349.03,321.00 350.10,320.00 C351.17,319.00 352.23,318.00 353.50,317.00 C354.77,316.00 356.25,315.00 357.70,314.00 C359.15,313.00 360.70,312.00 362.20,311.00 C363.70,310.00 365.45,308.92 366.70,308.00 C367.95,307.08 368.87,306.33 369.70,305.50 C370.53,304.67 371.13,303.92 371.70,303.00 C372.27,302.08 372.85,301.17 373.10,300.00 C373.35,298.83 373.30,297.33 373.20,296.00 C373.10,294.67 372.72,293.45 372.50,292.00 C372.28,290.55 371.90,289.43 371.90,287.30 C371.90,285.17 372.23,281.88 372.50,279.20 C372.77,276.52 373.47,273.32 373.50,271.20 C373.53,269.08 372.97,268.08 372.70,266.50 C372.43,264.92 372.00,263.18 371.90,261.70 C371.80,260.22 371.95,258.98 372.10,257.60 C372.25,256.22 372.65,254.78 372.80,253.40 C372.95,252.02 373.05,250.87 373.00,249.30 C372.95,247.73 372.82,245.57 372.50,244.00 C372.18,242.43 371.60,241.28 371.10,239.90 C370.60,238.52 369.97,237.10 369.50,235.70 C369.03,234.30 368.55,232.97 368.30,231.50 C368.05,230.03 368.10,228.43 368.00,226.90Z" fill="#29A0DC" stroke="#0F3448" stroke-width="1"/>
<path d="M445.10,247.80 L465.70,247.80 C465.57,249.37 465.65,250.68 465.30,252.50 C464.95,254.32 464.37,256.67 463.60,258.75 C462.83,260.83 461.42,262.92 460.70,265.00 C459.98,267.08 459.40,269.17 459.30,271.25 C459.20,273.33 459.58,275.42 460.10,277.50 C460.62,279.58 461.42,281.67 462.40,283.75 C463.38,285.83 464.73,288.12 466.00,290.00 C467.27,291.88 468.95,293.33 470.00,295.00 C471.05,296.67 471.78,298.58 472.30,300.00 C472.82,301.42 473.02,302.42 473.10,303.50 C473.18,304.58 473.12,305.58 472.80,306.50 C472.48,307.42 471.97,308.08 471.20,309.00 C470.43,309.92 469.07,311.00 468.20,312.00 C467.33,313.00 466.32,314.00 466.00,315.00 C465.68,316.00 465.63,317.00 466.30,318.00 C466.97,319.00 468.43,320.00 470.00,321.00 C471.57,322.00 473.93,323.00 475.70,324.00 C477.47,325.00 479.10,326.00 480.60,327.00 C482.10,328.00 483.72,329.00 484.70,330.00 C485.68,331.00 486.13,332.00 486.50,333.00 C486.87,334.00 487.08,335.00 486.90,336.00 C486.72,337.00 486.23,338.08 485.40,339.00 C484.57,339.92 483.23,340.75 481.90,341.50 C480.57,342.25 478.90,342.83 477.40,343.50 L433.40,343.50 C431.90,342.83 430.23,342.25 428.90,341.50 C427.57,340.75 426.23,339.92 425.40,339.00 C424.57,338.08 424.08,337.00 423.90,336.00 C423.72,335.00 423.93,334.00 424.30,333.00 C424.67,332.00 425.12,331.00 426.10,330.00 C427.08,329.00 428.70,328.00 430.20,327.00 C431.70,326.00 433.33,325.00 435.10,324.00 C436.87,323.00 439.23,322.00 440.80,321.00 C442.37,320.00 443.83,319.00 444.50,318.00 C445.17,317.00 445.12,316.00 444.80,315.00 C444.48,314.00 443.47,313.00 442.60,312.00 C441.73,311.00 440.37,309.92 439.60,309.00 C438.83,308.08 438.32,307.42 438.00,306.50 C437.68,305.58 437.62,304.58 437.70,303.50 C437.78,302.42 437.98,301.42 438.50,300.00 C439.02,298.58 439.75,296.67 440.80,295.00 C441.85,293.33 443.53,291.88 444.80,290.00 C446.07,288.12 447.42,285.83 448.40,283.75 C449.38,281.67 450.18,279.58 450.70,277.50 C451.22,275.42 451.60,273.33 451.50,271.25 C451.40,269.17 450.82,267.08 450.10,265.00 C449.38,262.92 447.97,260.83 447.20,258.75 C446.43,256.67 445.85,254.32 445.50,252.50 C445.15,250.68 445.23,249.37 445.10,247.80Z" fill="#C9C8EC" stroke="#33334A" stroke-width="1"/>
<circle cx="376.7" cy="226.3" r="0.95" fill="#0A0A14"/>
<circle cx="376.7" cy="234.5" r="0.95" fill="#0A0A14"/>
<circle cx="376.7" cy="262.0" r="0.95" fill="#0A0A14"/>
<circle cx="376.7" cy="286.9" r="0.95" fill="#0A0A14"/>
<circle cx="376.7" cy="313.9" r="0.95" fill="#0A0A14"/>
<circle cx="376.7" cy="318.0" r="0.95" fill="#0A0A14"/>
<circle cx="376.7" cy="322.0" r="0.95" fill="#0A0A14"/>
<circle cx="376.7" cy="331.4" r="0.95" fill="#0A0A14"/>
<circle cx="376.7" cy="335.1" r="0.95" fill="#0A0A14"/>
<circle cx="376.7" cy="337.6" r="0.95" fill="#0A0A14"/>
<circle cx="455.3" cy="247.8" r="0.95" fill="#0A0A14"/>
<circle cx="455.3" cy="251.7" r="0.95" fill="#0A0A14"/>
<circle cx="455.3" cy="262.3" r="0.95" fill="#0A0A14"/>
<circle cx="455.3" cy="281.1" r="0.95" fill="#0A0A14"/>
<circle cx="455.3" cy="296.8" r="0.95" fill="#0A0A14"/>
<circle cx="455.3" cy="298.8" r="0.95" fill="#0A0A14"/>
<circle cx="455.3" cy="306.2" r="0.95" fill="#0A0A14"/>
<circle cx="455.3" cy="307.8" r="0.95" fill="#0A0A14"/>
<circle cx="455.3" cy="324.8" r="0.95" fill="#0A0A14"/>
<circle cx="455.3" cy="327.3" r="0.95" fill="#0A0A14"/>
<circle cx="455.3" cy="333.2" r="0.95" fill="#0A0A14"/>
<circle cx="455.3" cy="334.9" r="0.95" fill="#0A0A14"/>
<circle cx="455.3" cy="339.1" r="0.95" fill="#0A0A14"/>
<circle cx="455.3" cy="343.4" r="0.95" fill="#0A0A14"/>
<text x="378.2" y="225.8" font-size="5" fill="#333" stroke="#333" stroke-width="0.04">CUX1</text>
<text x="377.2" y="232.6" font-size="5" fill="#333" stroke="#333" stroke-width="0.04">PHF6</text>
<text x="377.0" y="260.4" font-size="5" fill="#333" stroke="#333" stroke-width="0.04">EP300</text>
<text x="360.9" y="292.7" font-size="5" fill="#333" stroke="#333" stroke-width="0.04">BCOR</text>
<text x="377.6" y="311.4" font-size="5" fill="#14283C" stroke="#14283C" stroke-width="0.04">TET2</text>
<text x="362.8" y="319.3" font-size="5" fill="#14283C" stroke="#14283C" stroke-width="0.04">IDH2</text>
<text x="378.8" y="322.0" font-size="5" fill="#14283C" stroke="#14283C" stroke-width="0.04">BCOR</text>
<text x="365.3" y="328.2" font-size="5" fill="#14283C" stroke="#14283C" stroke-width="0.04">TET2</text>
<text x="347.3" y="330.8" font-size="5" fill="#14283C" stroke="#14283C" stroke-width="0.04">ATP10A</text>
<text x="378.6" y="330.7" font-size="5" fill="#14283C" stroke="#14283C" stroke-width="0.04">TET2</text>
<text x="353.8" y="336.3" font-size="5" fill="#14283C" stroke="#14283C" stroke-width="0.04">DNMT3A</text>
<text x="378.8" y="336.3" font-size="5" fill="#14283C" stroke="#14283C" stroke-width="0.04">NOTCH3</text>
<text x="363.5" y="344.1" font-size="5" fill="#333" stroke="#333" stroke-width="0.04">TET2 BCOR</text>
<line x1="366.8" y1="328.8" x2="376.6" y2="331.4" stroke="#14283C" stroke-width="0.5"/>
<text x="439.8" y="246.25" font-size="5" fill="#333" stroke="#333" stroke-width="0.04">BCOR</text>
<text x="443.4" y="257.7" font-size="5" fill="#2E2E40" stroke="#2E2E40" stroke-width="0.04">TET2</text>
<text x="436.9" y="268.6" font-size="5" fill="#2E2E40" stroke="#2E2E40" stroke-width="0.04">DNMT3A</text>
<text x="440.0" y="286.6" font-size="5" fill="#2E2E40" stroke="#2E2E40" stroke-width="0.04">SRSF2</text>
<text x="440.0" y="294.3" font-size="5" fill="#2E2E40" stroke="#2E2E40" stroke-width="0.04">BCOR</text>
<text x="434.5" y="303.3" font-size="5" fill="#2E2E40" stroke="#2E2E40" stroke-width="0.04">GRIN2A</text>
<text x="457.0" y="303.3" font-size="5" fill="#2E2E40" stroke="#2E2E40" stroke-width="0.04">ATM</text>
<text x="460.3" y="309.5" font-size="5" fill="#2E2E40" stroke="#2E2E40" stroke-width="0.04">BCOR</text>
<text x="437.0" y="313.8" font-size="5" fill="#2E2E40" stroke="#2E2E40" stroke-width="0.04">DNMT3A</text>
<text x="439.0" y="323.0" font-size="5" fill="#2E2E40" stroke="#2E2E40" stroke-width="0.04">BCOR</text>
<text x="457.3" y="326.5" font-size="5" fill="#2E2E40" stroke="#2E2E40" stroke-width="0.04">BCOR</text>
<text x="437.8" y="331.5" font-size="5" fill="#2E2E40" stroke="#2E2E40" stroke-width="0.04">BCOR</text>
<text x="457.3" y="332.9" font-size="5" fill="#2E2E40" stroke="#2E2E40" stroke-width="0.04">BCOR</text>
<text x="429.9" y="335.8" font-size="5" fill="#2E2E40" stroke="#2E2E40" stroke-width="0.04">TP53</text>
<text x="457.3" y="339.1" font-size="5" fill="#2E2E40" stroke="#2E2E40" stroke-width="0.04">CCND3</text>
<text x="437.8" y="340.8" font-size="5" fill="#2E2E40" stroke="#2E2E40" stroke-width="0.04">BCOR</text>
<text x="437.8" y="347.6" font-size="5" fill="#333" stroke="#333" stroke-width="0.04">BCOR</text>
<text x="457.4" y="347.6" font-size="5" fill="#333" stroke="#333" stroke-width="0.04">BCOR</text>
<line x1="455.6" y1="307" x2="460" y2="307.4" stroke="#2E2E40" stroke-width="0.5"/>
<line x1="440.5" y1="333" x2="455.3" y2="334.2" stroke="#2E2E40" stroke-width="0.5"/>
<rect x="0" y="0" width="520" height="1" fill="#555"/>
<rect x="0" y="0" width="1.1" height="384" fill="#555"/>
<rect x="0" y="382.6" width="520" height="1.4" fill="#555"/>
<rect x="518.8" y="0" width="1.2" height="384" fill="#666"/>
</svg>
</body></html>
